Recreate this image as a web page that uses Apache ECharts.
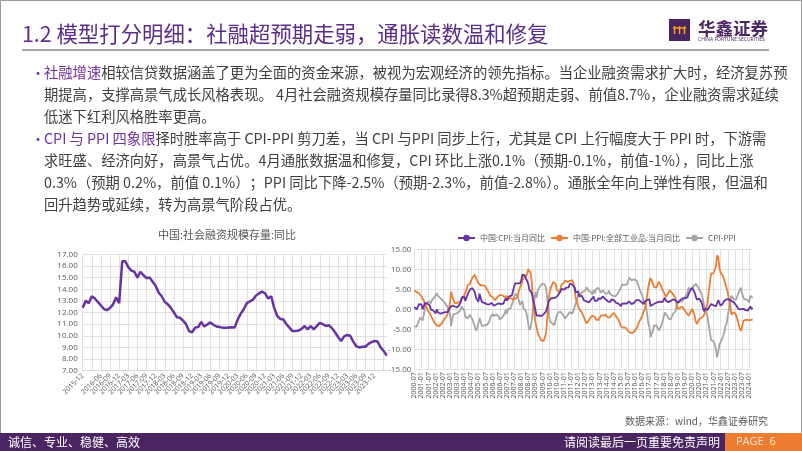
<!DOCTYPE html>
<html><head><meta charset="utf-8">
<script src="https://cdn.jsdelivr.net/npm/echarts@6/dist/echarts.min.js"></script>
<style>html,body{margin:0;padding:0;background:#fff}#c{width:802px;height:451px}</style>
</head><body><div id="c"></div><script>
// ---------- data ----------
// 中国:社会融资规模存量:同比, monthly 2015-12 .. 2024-04
const tsfStart = [2015, 12];
const tsfYoY = [
 12.4,13.0,12.8,13.4,13.2,12.9,12.6,12.3,12.2,12.4,12.7,13.3,
 12.8,16.4,16.4,15.9,15.6,15.5,15.0,15.5,15.2,14.95,15.0,14.65,
 14.3,13.7,13.4,12.9,12.7,12.4,12.0,11.6,11.55,11.3,11.0,10.4,
 10.3,10.7,10.75,11.2,10.8,10.97,11.15,10.95,10.8,10.75,10.7,10.7,
 10.72,10.73,10.72,11.4,11.9,12.3,12.8,12.95,13.1,13.45,13.65,13.8,
 13.65,13.2,13.4,12.4,11.7,11.45,11.4,11.0,10.7,10.4,10.4,10.45,
 10.6,10.84,10.55,10.84,10.55,10.84,11.1,11.0,10.84,10.9,10.65,10.3,
 9.9,9.55,9.95,10.07,10.0,9.5,9.1,9.0,9.06,9.06,9.3,9.45,
 9.55,9.5,9.0,8.7,8.3
];
// monthly 2000-07 .. 2024-04
const cpiStart = [2000, 7];
const cpiYoY = [
 0.5,0.3,0.0,0.0,1.3,1.5,
 1.2,0.0,0.8,1.6,1.7,1.4,1.5,1.0,-0.1,0.2,-0.3,-0.3,
 -1.0,0.0,-0.8,-1.3,-1.1,-0.8,-0.9,-0.7,-0.7,-0.8,-0.7,-0.4,
 0.4,0.2,0.9,1.0,0.7,0.3,0.5,0.9,1.1,1.8,3.0,3.2,
 3.2,2.1,3.0,3.8,4.4,5.0,5.3,5.3,5.2,4.3,2.8,2.4,
 1.9,3.9,2.7,1.8,1.8,1.6,1.8,1.3,0.9,1.2,1.3,1.6,
 1.9,0.9,0.8,1.2,1.4,1.5,1.0,1.3,1.5,1.4,1.9,2.8,
 2.2,2.7,3.3,3.0,3.4,4.4,5.6,6.5,6.2,6.5,6.9,6.5,
 7.1,8.7,8.3,8.5,7.7,7.1,6.3,4.9,4.6,4.0,2.4,1.2,
 1.0,-1.6,-1.2,-1.5,-1.4,-1.7,-1.8,-1.2,-0.8,-0.5,0.6,1.9,
 1.5,2.7,2.4,2.8,3.1,2.9,3.3,3.5,3.6,4.4,5.1,4.6,
 4.9,4.9,5.4,5.3,5.5,6.4,6.5,6.2,6.1,5.5,4.2,4.1,
 4.5,3.2,3.6,3.4,3.0,2.2,1.8,2.0,1.9,1.7,2.0,2.5,
 2.0,3.2,2.1,2.4,2.1,2.7,2.7,2.6,3.1,3.2,3.0,2.5,
 2.5,2.0,2.4,1.8,2.5,2.3,2.3,2.0,1.6,1.6,1.4,1.5,
 0.8,1.4,1.4,1.5,1.2,1.4,1.6,2.0,1.6,1.3,1.5,1.6,
 1.8,2.3,2.3,2.3,2.0,1.9,1.8,1.3,1.9,2.1,2.3,2.1,
 2.5,0.8,0.9,1.2,1.5,1.5,1.4,1.8,1.6,1.9,1.7,1.8,
 1.5,2.9,2.1,1.8,1.8,1.9,2.1,2.3,2.5,2.5,2.2,1.9,
 1.7,1.5,2.3,2.5,2.7,2.7,2.8,2.8,3.0,3.8,4.5,4.5,
 5.4,5.2,4.3,3.3,2.4,2.5,2.7,2.4,1.7,0.5,-0.5,0.2,
 -0.3,-0.2,0.4,0.9,1.3,1.1,1.0,0.8,0.7,1.5,2.3,1.5,
 0.9,0.9,1.5,2.1,2.1,2.5,2.7,2.5,2.8,2.1,1.6,1.8,
 2.1,1.0,0.7,0.1,0.2,0.0,-0.3,0.1,0.0,-0.2,-0.5,-0.3,
 -0.8,0.7,0.1,0.3
];
const ppiYoY = [
 4.8,4.5,4.3,4.1,4.0,3.6,
 3.2,2.8,2.2,1.2,0.6,-0.1,-0.6,-1.0,-1.6,-2.2,-2.7,-3.3,
 -3.8,-4.0,-4.1,-4.2,-3.9,-3.5,-3.1,-2.6,-2.2,-1.8,-1.2,0.0,
 1.5,4.4,3.2,2.3,1.6,1.4,1.5,1.7,1.9,2.0,2.3,2.8,
 3.5,4.0,4.9,6.0,6.4,6.4,7.3,7.9,8.3,8.6,8.1,7.1,
 6.5,6.1,6.0,6.0,6.0,5.6,5.7,5.2,4.6,4.4,3.4,3.2,
 3.0,2.6,2.3,2.5,3.0,3.3,3.6,3.4,3.5,3.8,3.1,2.9,
 3.3,2.6,2.7,2.8,2.8,2.5,2.4,2.6,2.7,3.2,4.6,5.4,
 6.1,6.6,8.0,8.1,8.2,8.8,10.0,10.1,9.1,6.6,2.0,-1.1,
 -3.3,-4.5,-6.0,-6.6,-7.2,-7.8,-8.2,-7.9,-7.0,-5.8,-2.1,1.7,
 4.3,5.4,5.9,6.8,7.1,6.4,4.8,4.3,4.3,5.0,6.1,5.9,
 6.6,7.2,7.3,6.8,6.8,7.1,7.5,7.3,6.5,5.0,2.7,1.7,
 0.7,0.0,-0.3,-0.7,-1.4,-2.1,-2.9,-3.5,-3.6,-2.8,-2.2,-1.9,
 -1.6,-1.6,-1.9,-2.6,-2.9,-2.7,-2.3,-1.6,-1.3,-1.5,-1.4,-1.4,
 -1.6,-2.0,-2.3,-2.0,-1.4,-1.1,-0.9,-1.2,-1.8,-2.2,-2.7,-3.3,
 -4.3,-4.8,-4.6,-4.6,-4.6,-4.8,-5.4,-5.9,-5.9,-5.9,-5.9,-5.9,
 -5.3,-4.9,-4.3,-3.4,-2.8,-2.6,-1.7,-0.8,0.1,1.2,3.3,5.5,
 6.9,7.8,7.6,6.4,5.5,5.5,5.5,6.3,6.9,6.9,5.8,4.9,
 4.3,3.7,3.1,3.4,4.1,4.7,4.6,4.1,3.6,3.3,2.7,0.9,
 0.1,0.1,0.4,0.9,0.6,0.0,-0.3,-0.8,-1.2,-1.6,-1.4,-0.5,
 0.1,-0.4,-1.5,-3.1,-3.7,-3.0,-2.4,-2.0,-2.1,-2.1,-1.5,-0.4,
 0.3,1.7,4.4,6.8,9.0,8.8,9.0,9.5,10.7,13.5,12.9,10.3,
 9.1,8.8,8.3,8.0,6.4,6.1,4.2,2.3,0.9,-1.3,-1.3,-0.7,
 -0.8,-1.4,-2.5,-3.6,-4.6,-5.4,-4.4,-3.0,-2.5,-2.6,-3.0,-2.7,
 -2.5,-2.7,-2.8,-2.5
];
const cpiPpiSpread = [
 -4.3,-4.2,-4.3,-4.1,-2.7,-2.1,
 -2.0,-2.8,-1.4,0.4,1.1,1.5,2.1,2.0,1.5,2.4,2.4,3.0,
 2.8,4.0,3.3,2.9,2.8,2.7,2.2,1.9,1.5,1.0,0.5,-0.4,
 -1.1,-4.2,-2.3,-1.3,-0.9,-1.1,-1.0,-0.8,-0.8,-0.2,0.7,0.4,
 -0.3,-1.9,-1.9,-2.2,-2.0,-1.4,-2.0,-2.6,-3.1,-4.3,-5.3,-4.7,
 -4.6,-2.2,-3.3,-4.2,-4.2,-4.0,-3.9,-3.9,-3.7,-3.2,-2.1,-1.6,
 -1.1,-1.7,-1.5,-1.3,-1.6,-1.8,-2.6,-2.1,-2.0,-2.4,-1.2,-0.1,
 -1.1,0.1,0.6,0.2,0.6,1.9,3.2,3.9,3.5,3.3,2.3,1.1,
 1.0,2.1,0.3,0.4,-0.5,-1.7,-3.7,-5.2,-4.5,-2.6,0.4,2.3,
 4.3,2.9,4.8,5.1,5.8,6.1,6.4,6.7,6.2,5.3,2.7,0.2,
 -2.8,-2.7,-3.5,-4.0,-4.0,-3.5,-1.5,-0.8,-0.7,-0.6,-1.0,-1.3,
 -1.7,-2.3,-1.9,-1.5,-1.3,-0.7,-1.0,-1.1,-0.4,0.5,1.5,2.4,
 3.8,3.2,3.9,4.1,4.4,4.3,4.7,5.5,5.5,4.5,4.2,4.4,
 3.6,4.8,4.0,5.0,5.0,5.4,5.0,4.2,4.4,4.7,4.4,3.9,
 4.1,4.0,4.7,3.8,3.9,3.4,3.2,3.2,3.4,3.8,4.1,4.8,
 5.1,6.2,6.0,6.1,5.8,6.2,7.0,7.9,7.5,7.2,7.4,7.5,
 7.1,7.2,6.6,5.7,4.8,4.5,3.5,2.1,1.8,0.9,-1.0,-3.4,
 -4.4,-7.0,-6.7,-5.2,-4.0,-4.0,-4.1,-4.5,-5.3,-5.0,-4.1,-3.1,
 -2.8,-0.8,-1.0,-1.6,-2.3,-2.8,-2.5,-1.8,-1.1,-0.8,-0.5,1.0,
 1.6,1.4,1.9,1.6,2.1,2.7,3.1,3.6,4.2,5.4,5.9,5.0,
 5.3,5.6,5.8,6.4,6.1,5.5,5.1,4.4,3.8,2.6,1.0,0.6,
 -0.6,-1.9,-4.0,-5.9,-7.7,-7.7,-8.0,-8.7,-10.0,-12.0,-10.6,-8.8,
 -8.2,-7.9,-6.8,-5.9,-4.3,-3.6,-1.5,0.2,1.9,3.4,2.9,2.5,
 2.9,2.4,3.2,3.7,4.8,5.4,4.1,3.1,2.5,2.4,2.5,2.4,
 1.7,3.4,2.9,2.8
];
const seriesNames = ['中国:CPI:当月同比', '中国:PPI:全部工业品:当月同比', 'CPI-PPI'];
const leftTitle = '中国:社会融资规模存量:同比';

function monthLabels(start, n) {
  const out = [];
  for (let k = 0; k < n; k++) {
    const t = start[1] - 1 + k;
    out.push((start[0] + Math.floor(t / 12)) + '-' + String(t % 12 + 1).padStart(2, '0'));
  }
  return out;
}
const tsfMonths = monthLabels(tsfStart, tsfYoY.length);
const cpiMonths = monthLabels(cpiStart, cpiYoY.length);

// ---------- styles ----------
const CJK = '"Noto Sans CJK SC", "Noto Sans", sans-serif';
const NUM = '"Open Sans", "Noto Sans", sans-serif';
const PURPLE = '#5b2d8a';
const HL = '#7030a0';
const TXT = '#404040';
const GRID = '#d9d9d9';
const AX = '#595959';
const BODY = '14.3px ' + CJK;

function textEl(x, y, text, opt) {
  return Object.assign({ type: 'text', x: x, y: y, silent: true,
    style: Object.assign({ text: text, font: BODY, fill: TXT, align: 'left', verticalAlign: 'middle' }, opt || {}) });
}
const rich = { p: { fill: HL, font: BODY } };
const bodyLines = [
  '{p|社融增速}相较信贷数据涵盖了更为全面的资金来源，被视为宏观经济的领先指标。当企业融资需求扩大时，经济复苏预',
  '期提高，支撑高景气成长风格表现。 4月社会融资规模存量同比录得8.3%超预期走弱、前值8.7%，企业融资需求延续',
  '低迷下红利风格胜率更高。',
  '{p|CPI 与 PPI 四象限}择时胜率高于 CPI-PPI 剪刀差，当 CPI 与PPI 同步上行，尤其是 CPI 上行幅度大于 PPI 时，下游需',
  '求旺盛、经济向好，高景气占优。4月通胀数据温和修复，CPI 环比上涨0.1%（预期-0.1%，前值-1%），同比上涨',
  '0.3%（预期 0.2%，前值 0.1%）；PPI 同比下降-2.5%（预期-2.3%，前值-2.8%）。通胀全年向上弹性有限，但温和',
  '回升趋势或延续，转为高景气阶段占优。'
];
const lineY = [73, 95, 117, 139, 161, 183, 205];

const graphics = [
  { type: 'rect', shape: { x: 0.5, y: 0.5, width: 801, height: 450 }, style: { fill: 'none', stroke: '#9a9a9a', lineWidth: 1 }, silent: true },
  textEl(22, 34, '1.2 模型打分明细：社融超预期走弱，通胀读数温和修复', { font: '21.4px ' + CJK, fill: PURPLE }),
  { type: 'line', shape: { x1: 22, y1: 50, x2: 769, y2: 50 }, style: { stroke: '#a6a6a6', lineWidth: 2 }, silent: true },
  // logo
  { type: 'rect', shape: { x: 669, y: 19, width: 21, height: 22 }, style: { fill: '#4b2462' }, silent: true },
  { type: 'polyline', shape: { points: [[673, 28], [686, 28]] }, style: { stroke: '#f5a01a', lineWidth: 1.5 }, silent: true },
  { type: 'polyline', shape: { points: [[674.5, 26], [674.5, 34]] }, style: { stroke: '#f5a01a', lineWidth: 1.5 }, silent: true },
  { type: 'polyline', shape: { points: [[679.5, 26], [679.5, 34]] }, style: { stroke: '#f5a01a', lineWidth: 1.5 }, silent: true },
  { type: 'polyline', shape: { points: [[684.5, 26], [684.5, 34]] }, style: { stroke: '#f5a01a', lineWidth: 1.5 }, silent: true },
  textEl(698, 28, '华鑫证券', { font: 'bold 17.5px ' + CJK, fill: '#4b2462' }),
  textEl(698, 40, 'CHINA FORTUNE SECURITIES', { font: '5px ' + NUM, fill: '#4b2462' }),
  // bullets
  textEl(31, 73, '•', { font: '14px ' + CJK, fill: HL }),
  textEl(31, 139, '•', { font: '14px ' + CJK, fill: HL }),
  // left chart title
  textEl(227, 235, leftTitle, { font: '11px ' + CJK, fill: AX, align: 'center' }),
  // source
  textEl(768, 421, '数据来源：wind，华鑫证券研究', { font: '10px ' + CJK, fill: AX, align: 'right' }),
  // footer
  { type: 'rect', shape: { x: 0, y: 433, width: 725, height: 18 }, style: { fill: '#4b2462' }, silent: true },
  { type: 'rect', shape: { x: 725, y: 433, width: 77, height: 18 }, style: { fill: '#ed7d31' }, silent: true },
  textEl(8, 442, '诚信、专业、稳健、高效', { font: '12px ' + CJK, fill: '#ffffff' }),
  textEl(720, 442, '请阅读最后一页重要免责声明', { font: '12px ' + CJK, fill: '#ffffff', align: 'right' }),
  textEl(736, 442, 'PAGE  6', { font: '11px ' + NUM, fill: '#fde3cf' })
];
bodyLines.forEach((t, i) => graphics.push(textEl(44, lineY[i], t, { rich: rich })));

const chart = echarts.init(document.getElementById('c'), null, { renderer: 'canvas' });
const yLab = { fontSize: 8, color: AX, fontFamily: NUM, formatter: v => v.toFixed(2) };
chart.setOption({
  animation: false,
  backgroundColor: '#fff',
  textStyle: { fontFamily: NUM },
  graphic: { elements: graphics },
  legend: {
    left: 452, top: 229, itemWidth: 17, itemHeight: 8, itemGap: 5,
    textStyle: { fontSize: 8, color: AX, fontFamily: CJK },
    data: seriesNames
  },
  grid: [
    { left: 82.7, top: 254.3, width: 304, height: 116.4, containLabel: false, outerBoundsMode: 'none' },
    { left: 414.3, top: 249.3, width: 338.4, height: 120, containLabel: false, outerBoundsMode: 'none' }
  ],
  xAxis: [
    { type: 'category', gridIndex: 0, data: tsfMonths, boundaryGap: false,
      axisLine: { show: true, lineStyle: { color: GRID } }, axisTick: { show: false, interval: 2 },
      axisLabel: { interval: 2, rotate: 45, fontSize: 7, color: AX, margin: 4, fontFamily: NUM,
        showMinLabel: true, hideOverlap: false },
      splitLine: { show: true, interval: 2, lineStyle: { color: GRID, width: 0.8 } } },
    { type: 'category', gridIndex: 1, data: cpiMonths, boundaryGap: false,
      axisLine: { show: true, lineStyle: { color: GRID } }, axisTick: { show: false, interval: 5 },
      axisLabel: { interval: 5, rotate: 90, fontSize: 7, color: AX, margin: 3, fontFamily: NUM,
        showMinLabel: true, hideOverlap: false },
      splitLine: { show: true, interval: 5, lineStyle: { color: GRID, width: 0.8 } } }
  ],
  yAxis: [
    { type: 'value', gridIndex: 0, min: 7, max: 17, interval: 1,
      axisLine: { show: false }, axisTick: { show: false },
      axisLabel: Object.assign({ margin: 5 }, yLab),
      splitLine: { lineStyle: { color: GRID, width: 0.8 } } },
    { type: 'value', gridIndex: 1, min: -15, max: 15, interval: 5,
      axisLine: { show: false }, axisTick: { show: false },
      axisLabel: Object.assign({ margin: 3 }, yLab),
      splitLine: { lineStyle: { color: GRID, width: 0.8 } } }
  ],
  series: [
    { name: leftTitle, type: 'line', xAxisIndex: 0, yAxisIndex: 0, data: tsfYoY,
      symbol: 'none', lineStyle: { color: '#6633a3', width: 2.5 }, itemStyle: { color: '#6633a3' } },
    { name: seriesNames[0], type: 'line', xAxisIndex: 1, yAxisIndex: 1, data: cpiYoY,
      symbol: 'none', z: 4, lineStyle: { color: '#6633a3', width: 1.8 }, itemStyle: { color: '#6633a3' } },
    { name: seriesNames[1], type: 'line', xAxisIndex: 1, yAxisIndex: 1, data: ppiYoY,
      symbol: 'none', z: 3, lineStyle: { color: '#ed7d31', width: 1.8 }, itemStyle: { color: '#ed7d31' } },
    { name: seriesNames[2], type: 'line', xAxisIndex: 1, yAxisIndex: 1, data: cpiPpiSpread,
      symbol: 'none', z: 2, lineStyle: { color: '#a5a5a5', width: 1.8 }, itemStyle: { color: '#a5a5a5' } }
  ]
});
</script></body></html>
